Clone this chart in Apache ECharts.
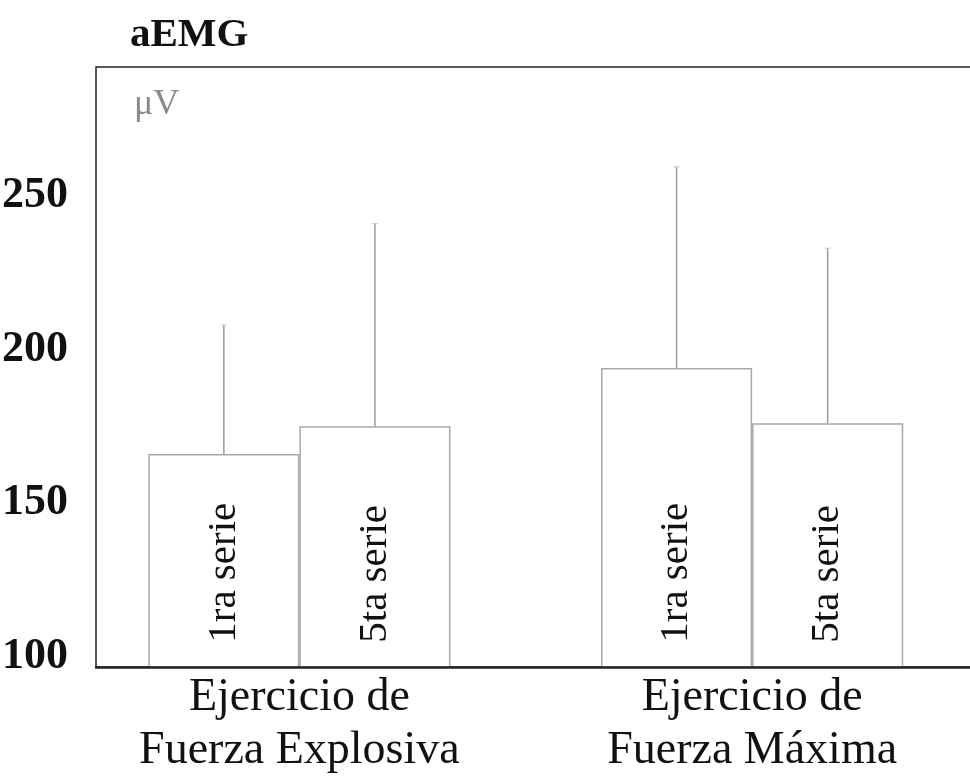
<!DOCTYPE html>
<html>
<head>
<meta charset="utf-8">
<script src="https://cdn.jsdelivr.net/npm/echarts@6/dist/echarts.min.js"></script>
<style>html,body{margin:0;padding:0;background:#fff;}#c{width:970px;height:778px;}</style>
</head>
<body>
<div id="c"></div>
<script>
const categories = ['Ejercicio de\nFuerza Explosiva', 'Ejercicio de\nFuerza Máxima'];
const seriesNames = ['1ra serie', '5ta serie'];
const serie1Mean = [166, 194];
const serie1SD = [42, 65.5];
const serie5Mean = [175, 176];
const serie5SD = [66, 57];
const yTickLabels = [100, 150, 200, 250];

const BAR_FRAC = 0.3337;
const serif = '"Liberation Serif", "Times New Roman", serif';

function errData(means, sds) {
  return means.map((m, i) => [i, m, m + sds[i]]);
}
function errRender(sign) {
  return function (params, api) {
    const band = api.size([1, 0])[0];
    const off = sign * band * BAR_FRAC / 2;
    const p0 = api.coord([api.value(0), api.value(1)]);
    const p1 = api.coord([api.value(0), api.value(2)]);
    const x = p0[0] + off;
    const st = { stroke: '#9a9a9a', lineWidth: 1.5 };
    return {
      type: 'group',
      children: [
        { type: 'line', shape: { x1: x, y1: p0[1], x2: x, y2: p1[1] }, style: st },
        { type: 'line', shape: { x1: x - 3, y1: p1[1], x2: x + 3, y2: p1[1] }, style: { stroke: '#c8c8c8', lineWidth: 1 } }
      ]
    };
  };
}
const barLabel = {
  show: true,
  position: 'insideBottom',
  distance: 25,
  rotate: 90,
  align: 'left',
  verticalAlign: 'middle',
  formatter: '{a}',
  fontFamily: serif,
  fontSize: 41,
  color: '#111'
};
const barStyle = { color: '#fff', borderColor: '#a8a8a8', borderWidth: 1.5 };

const chart = echarts.init(document.getElementById('c'), null, { renderer: 'canvas' });
chart.setOption({
  animation: false,
  backgroundColor: '#fff',
  title: [
    { text: 'aEMG', left: 125, top: 10, textStyle: { fontFamily: serif, fontWeight: 'bold', fontSize: 41, lineHeight: 41, color: '#111' } },
    { text: 'μV', left: 129, top: 82, textStyle: { fontFamily: serif, fontWeight: 'normal', fontSize: 36, lineHeight: 36, color: '#8a8a8a' } }
  ],
  grid: [
    { left: 73, right: -8.5, top: 67, bottom: 111, show: false, outerBoundsMode: 'none', containLabel: false },
    { left: 96, right: -20, top: 67, bottom: 111, show: true, borderColor: '#222', borderWidth: 1.5, backgroundColor: 'transparent', outerBoundsMode: 'none', containLabel: false }
  ],
  xAxis: [
    {
      type: 'category', gridIndex: 0, data: categories,
      axisLine: { show: false }, axisTick: { show: false },
      axisLabel: { fontFamily: serif, fontSize: 46, lineHeight: 53, color: '#111', margin: 4, interval: 0 }
    },
    {
      type: 'value', gridIndex: 1, min: 0, max: 1, z: 10,
      axisLine: { show: true, onZero: false, lineStyle: { color: '#222', width: 2.5 } },
      axisTick: { show: false }, axisLabel: { show: false }, splitLine: { show: false }
    }
  ],
  yAxis: [
    {
      type: 'value', gridIndex: 0, min: 96.6, max: 292,
      axisLine: { show: false }, axisTick: { show: false }, splitLine: { show: false },
      axisLabel: { customValues: yTickLabels, fontFamily: serif, fontWeight: 'bold', fontSize: 44, color: '#111', margin: 5 }
    },
    {
      type: 'value', gridIndex: 1, min: 0, max: 1,
      axisLine: { show: false }, axisTick: { show: false }, axisLabel: { show: false }, splitLine: { show: false }
    }
  ],
  series: [
    { name: seriesNames[0], type: 'bar', xAxisIndex: 0, yAxisIndex: 0, data: serie1Mean, barWidth: (BAR_FRAC * 100) + '%', barGap: '0%', itemStyle: barStyle, label: barLabel },
    { name: seriesNames[1], type: 'bar', xAxisIndex: 0, yAxisIndex: 0, data: serie5Mean, barWidth: (BAR_FRAC * 100) + '%', barGap: '0%', itemStyle: barStyle, label: barLabel },
    { type: 'custom', xAxisIndex: 0, yAxisIndex: 0, data: errData(serie1Mean, serie1SD), renderItem: errRender(-1), z: 3 },
    { type: 'custom', xAxisIndex: 0, yAxisIndex: 0, data: errData(serie5Mean, serie5SD), renderItem: errRender(1), z: 3 }
  ]
});
</script>
</body>
</html>
